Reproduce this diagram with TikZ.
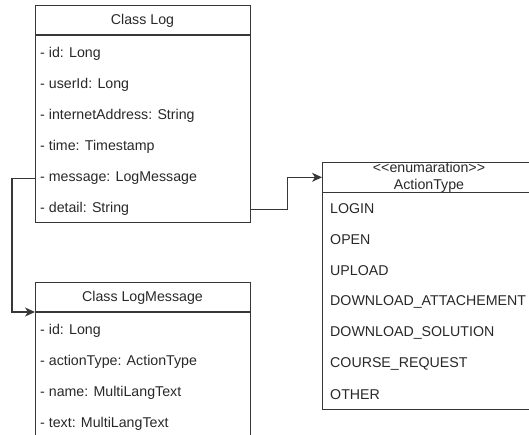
\documentclass[tikz,border=0pt]{standalone}
\usepackage{fontspec}
\setmainfont{Liberation Sans}[Ligatures=TeXOff]
\usetikzlibrary{arrows.meta}
\definecolor{ink}{RGB}{40,40,40}
\definecolor{edge}{RGB}{55,55,55}
\begin{document}
\begin{tikzpicture}[x=1pt,y=-1pt,
  box/.style={draw=edge, line width=1.1pt, anchor=north west, inner sep=0pt, minimum width=215pt},
  field/.style={anchor=west, inner sep=0pt, text=ink, font=\fontsize{14.2}{17}\selectfont},
  title/.style={inner sep=0pt, text=ink, align=center, font=\fontsize{14.2}{17}\selectfont},
  sep/.style={draw=edge, line width=1.1pt},
  link/.style={draw=edge, line width=1.1pt, -{Stealth[length=10pt,width=9pt,inset=3pt]}}]
\useasboundingbox (0,0) rectangle (529,434);
\clip (0,0) rectangle (529,434);

% class Log
\node[box, minimum height=217pt] (log) at (35,5) {};
\draw[sep] ([yshift=-30pt]log.north west) -- ([yshift=-30pt]log.north east);
\node[title] (logtitle) at (142.5,20.5) {Class Log};
\foreach \t [count=\i] in {- id: Long, - userId: Long, - internetAddress: String,
    - time: Timestamp, - message: LogMessage, - detail: String}
  \node[field] (log\i) at (40,{35+31.17*\i-12.8}) {\t};

% class LogMessage
\node[box, minimum height=200pt] (lm) at (35,282) {};
\coordinate (lmsep) at ([yshift=-30pt]lm.north west);
\draw[sep] (lmsep) -- ([yshift=-30pt]lm.north east);
\node[title] (lmtitle) at (142.5,298) {Class LogMessage};
\foreach \t [count=\i] in {- id: Long, - actionType: ActionType,
    - name: MultiLangText, - text: MultiLangText}
  \node[field] (lm\i) at (40,{312+31*\i-12.5}) {\t};

% enumeration ActionType
\node[box, minimum height=247.6pt, minimum width=214pt] (en) at (322,161.7) {};
\draw[sep] ([yshift=-30.6pt]en.north west) -- ([yshift=-30.6pt]en.north east);
\node[title] (entitle) at (429,177.3) {\textless\textless enumaration\textgreater\textgreater\\[-0.5pt]ActionType};
\coordinate (enhead) at (en.west |- entitle);
\foreach \t [count=\i] in {LOGIN, OPEN, UPLOAD, DOWNLOAD\_ATTACHEMENT,
    DOWNLOAD\_SOLUTION, COURSE\_REQUEST, OTHER}
  \node[field] (en\i) at (330,{192.3+31*\i-14.5}) {\t};

% associations
\draw[link] (log.west |- log5) -- ++(-23,0) |- (lmsep);
\draw[link] (log.east |- log6) -- ++(36.7,0) |- (enhead);
\end{tikzpicture}
\end{document}
